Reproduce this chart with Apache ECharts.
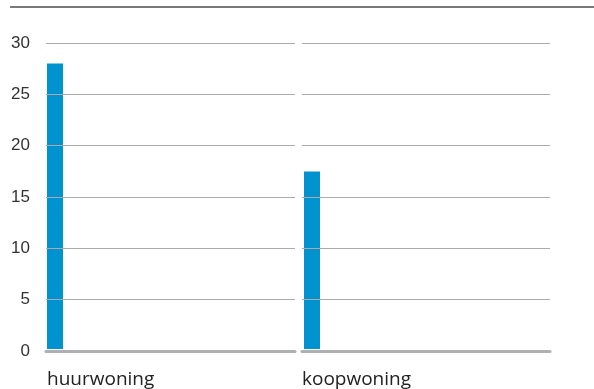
<!DOCTYPE html>
<html>
<head>
<meta charset="utf-8">
<script src="https://cdn.jsdelivr.net/npm/echarts@6/dist/echarts.min.js"></script>
<style>
  html, body { margin: 0; padding: 0; background: #fff; }
  #main { width: 594px; height: 389px; }
</style>
</head>
<body>
<div id="main"></div>
<script>
var categories = ["huurwoning", "koopwoning"];
var values = [28, 17.4];
var yTicks = [0, 5, 10, 15, 20, 25, 30];

var chartDom = document.getElementById("main");
var myChart = echarts.init(chartDom, null, { renderer: "canvas" });
var option;

// one panel per category: a wide grid for gridlines/baseline, a narrow one for the bar
var panels = [
  { left: 46, width: 249, barLeft: 47, labelShift: -8 },
  { left: 302, width: 248, barLeft: 304, labelShift: -10 }
];

var grids = [], xAxes = [], yAxes = [], series = [];

panels.forEach(function (p, i) {
  var bg = grids.length;
  grids.push({ left: p.left, width: p.width, top: 43, bottom: 38 });
  grids.push({ left: p.barLeft, width: 16, top: 43, bottom: 38 });

  xAxes.push({
    type: "category",
    gridIndex: bg,
    data: [categories[i]],
    axisLine: { show: true, lineStyle: { color: "#b0b0b3", width: 3 } },
    axisTick: { show: false },
    axisLabel: { show: false },
    z: 0
  });
  xAxes.push({
    type: "category",
    gridIndex: bg + 1,
    data: [categories[i]],
    axisLine: { show: false },
    axisTick: { show: false },
    axisLabel: {
      align: "left",
      margin: 21,
      padding: [0, 0, 0, p.labelShift],
      color: "#222",
      fontFamily: "Open Sans",
      fontSize: 19
    }
  });

  yAxes.push({
    type: "value",
    gridIndex: bg,
    min: yTicks[0],
    max: yTicks[yTicks.length - 1],
    interval: yTicks[1] - yTicks[0],
    z: 5,
    axisLine: { show: false },
    axisTick: { show: false },
    axisLabel: {
      show: i === 0,
      margin: 16,
      color: "#333",
      fontFamily: "Liberation Sans",
      fontSize: 17,
      verticalAlign: "middle",
      padding: [0, 0, 12, 0]
    },
    splitLine: { show: true, showMinLine: false, lineStyle: { color: "#ababab", width: 1 } }
  });
  yAxes.push({
    type: "value",
    gridIndex: bg + 1,
    min: yTicks[0],
    max: yTicks[yTicks.length - 1],
    interval: yTicks[1] - yTicks[0],
    show: false,
    splitLine: { show: false }
  });

  series.push({
    type: "bar",
    xAxisIndex: bg + 1,
    yAxisIndex: bg + 1,
    data: [values[i]],
    barWidth: 16,
    itemStyle: { color: "#0093d0" },
    z: 2
  });
});

option = {
  backgroundColor: "#fff",
  animation: false,
  grid: grids,
  xAxis: xAxes,
  yAxis: yAxes,
  series: series,
  graphic: [
    {
      type: "line",
      shape: { x1: 10, y1: 7, x2: 594, y2: 7 },
      style: { stroke: "#4d4d4d", lineWidth: 1.5 }
    }
  ]
};

option && myChart.setOption(option);
</script>
</body>
</html>
